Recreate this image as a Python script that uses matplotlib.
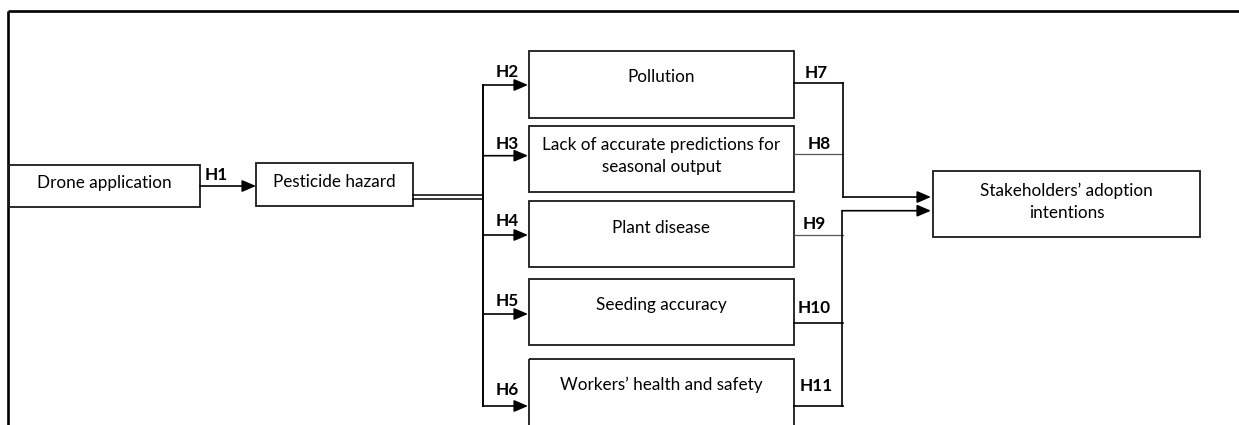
import matplotlib.pyplot as plt
from matplotlib.patches import Rectangle

plt.rcParams["font.family"] = ["Lato", "DejaVu Sans"]

# text content of the diagram
source_label = "Drone application"
hazard_label = "Pesticide hazard"
mediator_labels = [
    "Pollution",
    "Lack of accurate predictions for\nseasonal output",
    "Plant disease",
    "Seeding accuracy",
    "Workers\u2019 health and safety",
]
outcome_label = "Stakeholders\u2019 adoption\nintentions"
h1_label = "H1"
left_hyp = ["H2", "H3", "H4", "H5", "H6"]
right_hyp = ["H7", "H8", "H9", "H10", "H11"]

# layout in pixel units (y grows downward)
W, H = 1239, 425
med_x0, med_x1 = 529, 794
med_tops = [51, 125.5, 200.5, 278.5, 359]
med_bottoms = [117.5, 191.5, 267, 344.5, 440]
med_text_y = [77, 156, 228, 305, 385]
left_arrow_y = [85, 155.7, 235, 314, 406]
left_lab_y = [72, 144, 221, 301, 390]
right_line_y = [83, 154, 235, 323, 406]
right_lab_x = [816, 819, 814, 814, 816]
right_lab_y = [73, 144, 224, 308, 386]
right_line_col = ["black", "#555555", "#555555", "black", "black"]
trunk_x = 483
collect_top_x, collect_bot_x = 843, 842
arrow_top_y, arrow_bot_y = 197, 210.7

fig = plt.figure(figsize=(W / 100, H / 100), dpi=100)
ax = fig.add_axes([0, 0, 1, 1])
ax.set_xlim(0, W)
ax.set_ylim(H, 0)
ax.axis("off")

box_lw = 1.3
fs = 12.3


def box(x0, y0, x1, y1):
    ax.add_patch(Rectangle((x0, y0), x1 - x0, y1 - y0, fill=False,
                           edgecolor="#1a1a1a", lw=box_lw, zorder=2))


def arrow(x0, x1, y):
    ax.annotate("", xy=(x1, y), xytext=(x0, y),
                arrowprops=dict(arrowstyle="-|>,head_length=0.7,head_width=0.3",
                                color="black", lw=1.2, shrinkA=0, shrinkB=0,
                                mutation_scale=12))


def hyp(x, y, s):
    ax.text(x, y, s, ha="center", va="center", fontsize=fs,
            fontweight="bold", color="black")


# outer frame (top and left edges visible)
ax.plot([8, W], [11, 11], color="black", lw=1.9, solid_capstyle="butt")
ax.plot([8, 8], [11, H], color="black", lw=1.9, solid_capstyle="butt")

# source and hazard
box(9, 164.5, 200, 207)
ax.text(104.5, 183, source_label, ha="center", va="center", fontsize=fs)
box(256, 163, 413, 206)
ax.text(334.5, 182, hazard_label, ha="center", va="center", fontsize=fs)
arrow(200, 256, 186)
hyp(216, 175, h1_label)

# double connector to trunk
ax.plot([413, trunk_x], [195, 195], color="black", lw=1.1)
ax.plot([413, trunk_x], [199, 199], color="black", lw=1.1)
ax.plot([trunk_x, trunk_x], [left_arrow_y[0], left_arrow_y[-1]],
        color="black", lw=1.4)

# mediators with incoming and outgoing paths
for i, lab in enumerate(mediator_labels):
    box(med_x0, med_tops[i], med_x1, med_bottoms[i])
    ax.text((med_x0 + med_x1) / 2, med_text_y[i], lab, ha="center",
            va="center", fontsize=fs, linespacing=1.45)
    arrow(trunk_x, med_x0 - 1, left_arrow_y[i])
    hyp(507, left_lab_y[i], left_hyp[i])
    col = right_line_col[i]
    ax.plot([med_x1, collect_top_x], [right_line_y[i]] * 2, color=col,
            lw=1.2 if col == "black" else 0.9)
    hyp(right_lab_x[i], right_lab_y[i], right_hyp[i])

# collectors into outcome
ax.plot([collect_top_x, collect_top_x], [right_line_y[0], arrow_top_y],
        color="black", lw=1.2)
ax.plot([collect_bot_x, collect_bot_x], [arrow_bot_y, right_line_y[-1]],
        color="black", lw=1.2)
arrow(collect_top_x, 931, arrow_top_y)
arrow(collect_bot_x, 931, arrow_bot_y)

box(933, 171, 1200, 237)
ax.text(1066.5, 201.5, outcome_label, ha="center", va="center",
        fontsize=fs, linespacing=1.45)

fig.savefig("out.png", dpi=100)
